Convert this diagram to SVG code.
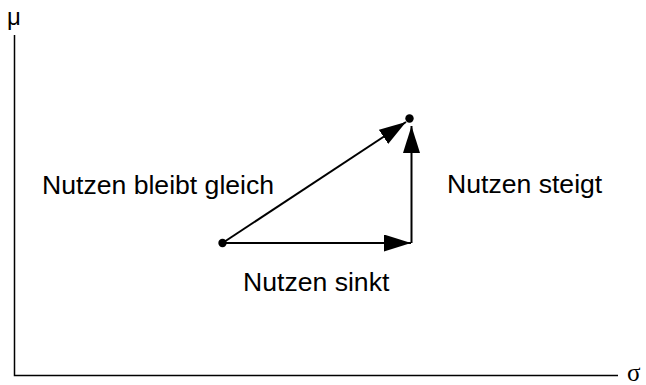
<svg xmlns="http://www.w3.org/2000/svg" width="646" height="385" viewBox="0 0 646 385">
<style>
.lbl{font-family:"Liberation Sans",Arial,sans-serif;font-size:26.6px;fill:#000}
.ax{stroke:#000;stroke-width:1.5;fill:none}
.arr{stroke:#000;stroke-width:2;fill:none}
</style>
<defs>
<marker id="ah" markerUnits="userSpaceOnUse" markerWidth="28" markerHeight="18" refX="27" refY="8.5" orient="auto">
<path d="M0,0 L27,8.5 L0,17 Z" fill="#000"/>
</marker>
</defs>
<rect width="646" height="385" fill="#fff"/>
<g id="axes">
<path class="ax" d="M14.5,35 V375.5 H618"/>
<text x="7" y="25" style="font-family:'Liberation Sans',Arial,sans-serif;font-size:24px">μ</text>
<text x="627" y="381" style="font-family:'Liberation Serif','Times New Roman',serif;font-size:25px">σ</text>
</g>
<g id="connectors">
<line class="arr" x1="222.5" y1="243" x2="411" y2="243" marker-end="url(#ah)"/>
<line class="arr" x1="411.5" y1="243" x2="411.5" y2="126" marker-end="url(#ah)"/>
<line class="arr" x1="222.5" y1="243" x2="406" y2="122" marker-end="url(#ah)"/>
</g>
<g id="start"><circle cx="222.5" cy="243" r="4.2" fill="#000"/></g>
<g id="end"><circle cx="409.5" cy="118.5" r="4.2" fill="#000"/></g>
<g id="label-gleich"><text class="lbl" x="42" y="194">Nutzen bleibt gleich</text></g>
<g id="label-steigt"><text class="lbl" x="447" y="193">Nutzen steigt</text></g>
<g id="label-sinkt"><text class="lbl" x="243" y="291">Nutzen sinkt</text></g>
</svg>
